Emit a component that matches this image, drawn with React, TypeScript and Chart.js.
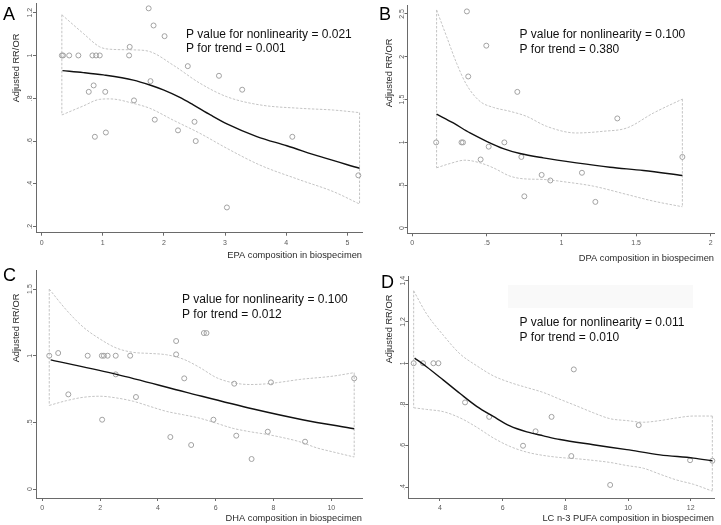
import React, { useEffect, useRef } from 'react';
import { Chart, registerables } from 'chart.js';

Chart.register(...registerables);

const FONT = '"Liberation Sans", Arial, Helvetica, sans-serif';
const W = 721;
const H = 525;
const AXIS = '#6a6a6a';
const TICK = '#5a5a5a';
const TITLE = '#2a2a2a';
const CI = '#c4c4c4';
const OBS = '#a2a2a2';

// ---------------- Panel A : EPA ----------------
const epaObsX = [0.33, 0.35, 0.45, 0.6, 0.83, 0.89, 0.95, 1.43, 1.44, 1.75, 1.83, 2.01, 2.39, 2.9, 3.28, 1.78, 0.77, 0.85, 1.04, 1.51, 1.85, 2.23, 2.5, 2.52, 0.87, 1.05, 4.1, 5.18, 3.03];
const epaObsY = [1.0, 1.0, 1.0, 1.0, 1.0, 1.0, 1.0, 1.0, 1.04, 1.22, 1.14, 1.09, 0.95, 0.905, 0.84, 0.88, 0.83, 0.86, 0.83, 0.79, 0.7, 0.65, 0.69, 0.6, 0.62, 0.64, 0.62, 0.44, 0.29];
const epaFitX = [0.34, 0.68, 1.01, 1.5, 1.77, 1.99, 2.26, 2.48, 2.76, 3.03, 3.52, 4.01, 4.56, 5.2];
const epaFitY = [0.929, 0.92, 0.909, 0.885, 0.862, 0.839, 0.804, 0.769, 0.722, 0.68, 0.621, 0.578, 0.527, 0.473];
const epaCiX = [0.33, 0.68, 0.95, 1.12, 1.5, 1.77, 2.15, 2.59, 3.03, 3.57, 4.23, 4.77, 5.2];
const epaUpY = [1.19, 1.103, 1.04, 1.029, 1.026, 1.018, 0.955, 0.87, 0.807, 0.769, 0.753, 0.745, 0.733];
const epaLoY = [0.722, 0.764, 0.795, 0.797, 0.776, 0.753, 0.698, 0.636, 0.566, 0.488, 0.418, 0.364, 0.306];
const epaTicksX = [0, 1, 2, 3, 4, 5];
const epaTicksY = [0.2, 0.4, 0.6, 0.8, 1, 1.2];

// ---------------- Panel B : DPA ----------------
const dpaObsX = [0.16, 0.33, 0.34, 0.366, 0.496, 0.375, 0.704, 0.458, 0.512, 0.617, 0.731, 0.867, 0.925, 0.751, 1.137, 1.227, 1.374, 1.81];
const dpaObsY = [1.0, 1.0, 1.0, 2.53, 2.13, 1.77, 1.59, 0.8, 0.95, 1.0, 0.83, 0.62, 0.555, 0.37, 0.645, 0.305, 1.28, 0.83];
const dpaFitX = [0.163, 0.275, 0.387, 0.498, 0.61, 0.722, 0.878, 1.1, 1.325, 1.549, 1.81];
const dpaFitY = [1.33, 1.227, 1.11, 1.013, 0.928, 0.87, 0.819, 0.761, 0.71, 0.672, 0.613];
const dpaUpX = [0.163, 0.23, 0.297, 0.364, 0.454, 0.543, 0.655, 0.766, 0.9, 1.1, 1.28, 1.437, 1.616, 1.81];
const dpaUpY = [2.547, 2.236, 1.925, 1.673, 1.479, 1.409, 1.363, 1.304, 1.188, 1.11, 1.13, 1.168, 1.343, 1.506];
const dpaLoX = [0.163, 0.253, 0.353, 0.454, 0.543, 0.655, 0.744, 0.878, 1.034, 1.213, 1.437, 1.616, 1.81];
const dpaLoY = [0.703, 0.753, 0.792, 0.761, 0.703, 0.606, 0.575, 0.567, 0.536, 0.489, 0.392, 0.314, 0.248];
const dpaTicksX = [0, 0.5, 1, 1.5, 2];
const dpaTicksY = [0, 0.5, 1, 1.5, 2, 2.5];

// ---------------- Panel C : DHA ----------------
const dhaObsX = [0.24, 0.55, 0.9, 1.57, 2.06, 2.13, 2.26, 2.54, 3.04, 2.54, 2.07, 3.24, 4.63, 4.63, 4.91, 4.43, 5.15, 5.59, 5.68, 5.92, 6.64, 6.71, 7.24, 7.8, 7.91, 9.09, 10.79];
const dhaObsY = [1.0, 1.02, 0.71, 1.0, 1.0, 1.0, 1.0, 1.0, 1.0, 0.86, 0.52, 0.69, 1.11, 1.01, 0.83, 0.39, 0.33, 1.17, 1.17, 0.52, 0.79, 0.4, 0.225, 0.43, 0.8, 0.355, 0.83];
const dhaFitX = [0.29, 2.57, 4.99, 7.3, 9.0, 10.79];
const dhaFitY = [0.969, 0.86, 0.725, 0.6, 0.52, 0.452];
const dhaUpX = [0.24, 0.84, 1.42, 1.99, 2.57, 3.15, 3.72, 4.3, 4.88, 5.45, 6.03, 6.6, 7.18, 7.76, 8.33, 8.91, 10.06, 10.79];
const dhaUpY = [1.5, 1.341, 1.214, 1.126, 1.057, 1.025, 1.017, 1.007, 0.974, 0.911, 0.835, 0.797, 0.784, 0.789, 0.804, 0.822, 0.847, 0.873];
const dhaLoX = [0.24, 0.84, 1.42, 1.99, 2.57, 3.15, 3.72, 4.3, 4.88, 5.45, 6.03, 6.6, 7.18, 7.76, 8.33, 8.91, 9.49, 10.06, 10.79];
const dhaLoY = [0.627, 0.663, 0.688, 0.696, 0.683, 0.658, 0.62, 0.582, 0.557, 0.531, 0.493, 0.455, 0.43, 0.41, 0.385, 0.354, 0.309, 0.278, 0.24];
const dhaTicksX = [0, 2, 4, 6, 8, 10];
const dhaTicksY = [0, 0.5, 1, 1.5];

// ---------------- Panel D : LC n-3 PUFA ----------------
const lcObsX = [3.16, 3.46, 3.79, 3.95, 4.8, 5.57, 6.65, 7.05, 7.56, 8.27, 8.19, 9.43, 10.34, 11.98, 12.69];
const lcObsY = [1.0, 1.0, 1.0, 1.0, 0.81, 0.74, 0.6, 0.67, 0.74, 0.97, 0.55, 0.41, 0.7, 0.53, 0.527];
const lcFitX = [3.19, 3.57, 4.11, 4.64, 5.17, 5.7, 6.23, 6.77, 7.3, 7.83, 8.89, 9.96, 11.02, 12.09, 12.69];
const lcFitY = [1.025, 0.983, 0.918, 0.853, 0.791, 0.742, 0.696, 0.667, 0.648, 0.63, 0.605, 0.581, 0.556, 0.54, 0.527];
const lcCiX = [3.16, 3.57, 4.11, 4.64, 5.17, 5.7, 6.23, 6.77, 7.3, 7.83, 8.36, 8.89, 9.43, 9.96, 10.49, 11.02, 11.55, 12.09, 12.69];
const lcUpY = [1.351, 1.24, 1.135, 1.045, 0.988, 0.939, 0.907, 0.882, 0.858, 0.825, 0.793, 0.76, 0.731, 0.722, 0.714, 0.722, 0.735, 0.744, 0.744];
const lcLoY = [0.784, 0.776, 0.765, 0.735, 0.69, 0.638, 0.597, 0.569, 0.553, 0.543, 0.537, 0.529, 0.519, 0.504, 0.491, 0.462, 0.434, 0.413, 0.38];
const lcTicksX = [4, 6, 8, 10, 12];
const lcTicksY = [0.4, 0.6, 0.8, 1, 1.2, 1.4];

type PanelDef = {
  letter: string;
  xTitle: string;
  pText: [string, string];
  obsX: number[]; obsY: number[];
  fitX: number[]; fitY: number[];
  upX: number[]; upY: number[];
  loX: number[]; loY: number[];
  ticksX: number[]; ticksY: number[];
  area: { l: number; r: number; t: number; b: number };
  xMin: number; xMax: number; yMin: number; yMax: number;
  xAxisH: number;
  letterPos: [number, number];
  yTitlePos: [number, number];
  pPos: [number, number, number];
  shade?: [number, number, number, number][];
};

const panels: PanelDef[] = [
  {
    letter: 'A', xTitle: 'EPA composition in biospecimen',
    pText: ['P value for nonlinearity = 0.021', 'P for trend = 0.001'],
    obsX: epaObsX, obsY: epaObsY, fitX: epaFitX, fitY: epaFitY,
    upX: epaCiX, upY: epaUpY, loX: epaCiX, loY: epaLoY,
    ticksX: epaTicksX, ticksY: epaTicksY,
    area: { l: 36, r: 362, t: 3, b: 232.7 },
    xMin: -0.093, xMax: 5.24, yMin: 0.172, yMax: 1.245,
    xAxisH: 27.9,
    letterPos: [3, 19.5], yTitlePos: [16.5, 68], pPos: [186, 34.5, 49],
  },
  {
    letter: 'B', xTitle: 'DPA composition in biospecimen',
    pText: ['P value for nonlinearity = 0.100', 'P for trend = 0.380'],
    obsX: dpaObsX, obsY: dpaObsY, fitX: dpaFitX, fitY: dpaFitY,
    upX: dpaUpX, upY: dpaUpY, loX: dpaLoX, loY: dpaLoY,
    ticksX: dpaTicksX, ticksY: dpaTicksY,
    area: { l: 407.5, r: 714, t: 5, b: 233.3 },
    xMin: -0.032, xMax: 2.022, yMin: -0.062, yMax: 2.605,
    xAxisH: 30.8,
    letterPos: [379, 19.5], yTitlePos: [389.7, 73], pPos: [519.5, 34.7, 50],
  },
  {
    letter: 'C', xTitle: 'DHA composition in biospecimen',
    pText: ['P value for nonlinearity = 0.100', 'P for trend = 0.012'],
    obsX: dhaObsX, obsY: dhaObsY, fitX: dhaFitX, fitY: dhaFitY,
    upX: dhaUpX, upY: dhaUpY, loX: dhaLoX, loY: dhaLoY,
    ticksX: dhaTicksX, ticksY: dhaTicksY,
    area: { l: 36, r: 362, t: 270, b: 498 },
    xMin: -0.218, xMax: 11.06, yMin: -0.0675, yMax: 1.643,
    xAxisH: 25.6,
    letterPos: [3, 281], yTitlePos: [16.5, 328], pPos: [182, 300, 314.5],
  },
  {
    letter: 'D', xTitle: 'LC n-3 PUFA composition in biospecimen',
    pText: ['P value for nonlinearity = 0.011', 'P for trend = 0.010'],
    obsX: lcObsX, obsY: lcObsY, fitX: lcFitX, fitY: lcFitY,
    upX: lcCiX, upY: lcUpY, loX: lcCiX, loY: lcLoY,
    ticksX: lcTicksX, ticksY: lcTicksY,
    area: { l: 408.3, r: 714, t: 276, b: 498 },
    xMin: 2.989, xMax: 12.743, yMin: 0.3467, yMax: 1.4228,
    xAxisH: 25.6,
    letterPos: [381, 288], yTitlePos: [389.7, 329], pPos: [519.5, 323, 338],
    shade: [[508, 285, 185, 23]],
  },
];

const fmt = (v: number) => {
  const s = String(v);
  return s.startsWith('0.') ? s.slice(1) : s;
};

const toXY = (xs: number[], ys: number[]) => xs.map((x, i) => ({ x, y: ys[i] }));

function makeDecor(p: PanelDef) {
  return {
    id: 'decor' + p.letter,
    beforeDraw(chart: any) {
      if (!p.shade) return;
      const ctx = chart.ctx;
      ctx.save();
      ctx.fillStyle = '#f9f9f9';
      p.shade.forEach(([x, y, w, h]) => ctx.fillRect(x, y, w, h));
      ctx.restore();
    },
    afterDraw(chart: any) {
      const ctx = chart.ctx;
      ctx.save();
      ctx.fillStyle = '#000';
      ctx.textAlign = 'left';
      ctx.textBaseline = 'alphabetic';
      ctx.font = `18px ${FONT}`;
      ctx.fillText(p.letter, p.letterPos[0], p.letterPos[1]);
      ctx.font = `12px ${FONT}`;
      ctx.textBaseline = 'middle';
      ctx.fillStyle = '#111';
      ctx.fillText(p.pText[0], p.pPos[0], p.pPos[1]);
      ctx.fillText(p.pText[1], p.pPos[0], p.pPos[2]);
      ctx.translate(p.yTitlePos[0], p.yTitlePos[1]);
      ctx.rotate(-Math.PI / 2);
      ctx.font = `9.3px ${FONT}`;
      ctx.textAlign = 'center';
      ctx.fillStyle = TITLE;
      ctx.fillText('Adjusted RR/OR', 0, 0);
      ctx.restore();
    },
  };
}

const Y_AXIS_W = 20;

function PanelChart({ p }: { p: PanelDef }) {
  const ref = useRef<HTMLCanvasElement | null>(null);
  useEffect(() => {
    if (!ref.current) return;
    const dashed = {
      showLine: true,
      borderColor: CI,
      borderWidth: 1,
      borderDash: [2.5, 1.5],
      pointRadius: 0,
      fill: false,
      clip: false,
    };
    const n = p.upX.length - 1;
    const m = p.loX.length - 1;
    const chart = new Chart(ref.current, {
      type: 'scatter',
      data: {
        datasets: [
          {
            label: 'fit',
            data: toXY(p.fitX, p.fitY),
            showLine: true,
            borderColor: '#111',
            borderWidth: 1.4,
            pointRadius: 0,
            cubicInterpolationMode: 'monotone',
            clip: false,
          },
          {
            label: 'observed',
            data: toXY(p.obsX, p.obsY),
            showLine: false,
            pointRadius: 2.5,
            pointBorderWidth: 1,
            pointBorderColor: OBS,
            pointBackgroundColor: 'rgba(255,255,255,0)',
            clip: false,
          },
          { label: 'upper', data: toXY(p.upX, p.upY), cubicInterpolationMode: 'monotone', ...dashed },
          { label: 'lower', data: toXY(p.loX, p.loY), cubicInterpolationMode: 'monotone', ...dashed },
          {
            label: 'left',
            data: [{ x: p.upX[0], y: p.upY[0] }, { x: p.loX[0], y: p.loY[0] }],
            tension: 0,
            ...dashed,
          },
          {
            label: 'right',
            data: [{ x: p.upX[n], y: p.upY[n] }, { x: p.loX[m], y: p.loY[m] }],
            tension: 0,
            ...dashed,
          },
        ],
      } as any,
      options: {
        animation: false,
        responsive: false,
        maintainAspectRatio: false,
        events: [],
        layout: {
          autoPadding: false,
          padding: {
            left: p.area.l - Y_AXIS_W,
            right: W - p.area.r,
            top: p.area.t,
            bottom: H - p.area.b - p.xAxisH,
          },
        },
        plugins: { legend: { display: false }, tooltip: { enabled: false } },
        scales: {
          x: {
            type: 'linear',
            position: 'bottom',
            min: p.xMin,
            max: p.xMax,
            afterBuildTicks: (s: any) => { s.ticks = p.ticksX.map((value) => ({ value })); },
            afterFit: (s: any) => { s.height = p.xAxisH; },
            grid: { drawOnChartArea: false, drawTicks: true, tickLength: 3, color: AXIS, lineWidth: 1 },
            border: { display: true, color: AXIS, width: 1 },
            ticks: {
              autoSkip: false, maxRotation: 0, minRotation: 0, padding: 2.8,
              color: TICK, font: { family: FONT, size: 7 },
              callback: (v: any) => fmt(Number(v)),
            },
            title: {
              display: true, text: p.xTitle, align: 'end', color: TITLE,
              font: { family: FONT, size: 9.3 }, padding: 0,
            },
          },
          y: {
            type: 'linear',
            position: 'left',
            min: p.yMin,
            max: p.yMax,
            afterBuildTicks: (s: any) => { s.ticks = p.ticksY.map((value) => ({ value })); },
            afterFit: (s: any) => { s.width = Y_AXIS_W; },
            grid: { drawOnChartArea: false, drawTicks: true, tickLength: 3, color: AXIS, lineWidth: 1 },
            border: { display: true, color: AXIS, width: 1 },
            ticks: {
              autoSkip: false, minRotation: 90, maxRotation: 90, crossAlign: 'center', padding: -2.4,
              color: TICK, font: { family: FONT, size: 7 },
              callback: (v: any) => fmt(Number(v)),
            },
          },
        },
      } as any,
      plugins: [makeDecor(p)],
    });
    return () => chart.destroy();
  }, [p]);
  return (
    <canvas
      ref={ref}
      width={W}
      height={H}
      style={{ position: 'absolute', left: 0, top: 0, width: W, height: H }}
    />
  );
}

export default function App() {
  return (
    <div style={{ position: 'absolute', left: 0, top: 0, width: W, height: H, background: '#fff', overflow: 'hidden' }}>
      {panels.map((p) => (
        <PanelChart key={p.letter} p={p} />
      ))}
    </div>
  );
}
